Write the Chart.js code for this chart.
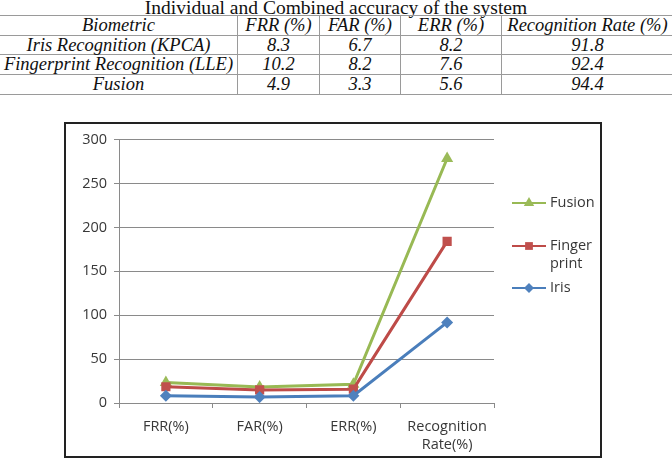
<!DOCTYPE html>
<html>
<head>
<meta charset="utf-8">
<script src="https://cdn.jsdelivr.net/npm/chart.js@4"></script>
<style>
  body { margin: 0; background: #fff; width: 672px; height: 462px; overflow: hidden; position: relative; }
  .title { position: absolute; left: 0; top: -3px; width: 672px; text-align: center;
    font: 19.5px "Liberation Serif", "Times New Roman", serif; color: #111; }
  table { position: absolute; left: -1px; top: 15px; width: 675px; border-collapse: collapse;
    font: italic 18.5px "Liberation Serif", "Times New Roman", serif; color: #111; }
  td { border: 1px solid #9a9a9a; text-align: center; height: 18.7px; padding: 0; line-height: 18.7px; }
  .box { position: absolute; left: 64px; top: 122px; width: 534px; height: 332px; border: 2px solid #222; }
  canvas { display: block; }
</style>
</head>
<body>
<div class="title">Individual and Combined accuracy of the system</div>
<table>
  <tr><td style="width:237px">Biometric</td><td style="width:81px">FRR (%)</td><td style="width:80px">FAR (%)</td><td style="width:100px">ERR (%)</td><td>Recognition Rate (%)</td></tr>
  <tr><td>Iris Recognition (KPCA)</td><td>8.3</td><td>6.7</td><td>8.2</td><td>91.8</td></tr>
  <tr><td>Fingerprint Recognition (LLE)</td><td>10.2</td><td>8.2</td><td>7.6</td><td>92.4</td></tr>
  <tr><td>Fusion</td><td>4.9</td><td>3.3</td><td>5.6</td><td>94.4</td></tr>
</table>
<div class="box"><canvas id="myChart" width="534" height="332"></canvas></div>
<script>
const categories = ['FRR(%)', 'FAR(%)', 'ERR(%)', ['Recognition', 'Rate(%)']]
const iris = [8.3, 6.7, 8.2, 91.8]
const finger = [10.2, 8.2, 7.6, 92.4]
const fusion = [4.9, 3.3, 5.6, 94.4]
const yTicks = [0, 50, 100, 150, 200, 250, 300]

const textColor = '#383838'
const gridColor = '#8a8a8a'

// legend drawn by hand: line + marker, text wrapped like Excel does
const sideLegend = {
  id: 'sideLegend',
  afterDraw: (chart) => {
    const ctx = chart.ctx
    const rows = [
      { ds: 2, y: 79 },
      { ds: 1, y: 122 },
      { ds: 0, y: 164 }
    ]
    ctx.save()
    ctx.font = '14.5px "Open Sans"'
    ctx.textBaseline = 'middle'
    rows.forEach((row) => {
      const ds = chart.data.datasets[row.ds]
      ctx.strokeStyle = ds.borderColor
      ctx.lineWidth = 2
      ctx.beginPath()
      ctx.moveTo(446, row.y)
      ctx.lineTo(480, row.y)
      ctx.stroke()
      ctx.fillStyle = ds.pointBackgroundColor
      Chart.helpers.drawPoint(ctx, { pointStyle: ds.pointStyle, radius: ds.pointRadius - 1, borderWidth: 0 }, 463, row.y)
      ctx.fillStyle = textColor
      ds.label.split(' ').forEach((word, i) => ctx.fillText(word, 484, row.y + i * 18))
    })
    ctx.restore()
  }
}

const config = {
  type: 'line',
  data: {
    labels: categories,
    datasets: [{
      label: 'Iris',
      data: iris,
      borderColor: '#4A7EBB',
      backgroundColor: '#4F81BD',
      pointBackgroundColor: '#4F81BD',
      pointStyle: 'rectRot',
      pointRadius: 6
    }, {
      label: 'Finger print',
      data: finger,
      borderColor: '#BE4B48',
      backgroundColor: '#C0504D',
      pointBackgroundColor: '#C0504D',
      pointStyle: 'rect',
      pointRadius: 6.5
    }, {
      label: 'Fusion',
      data: fusion,
      borderColor: '#98B954',
      backgroundColor: '#9BBB59',
      pointBackgroundColor: '#9BBB59',
      pointStyle: 'triangle',
      pointRadius: 7
    }]
  },
  options: {
    responsive: false,
    animation: false,
    elements: {
      line: { borderWidth: 3, tension: 0 },
      point: { borderWidth: 0 }
    },
    layout: { padding: { top: 14, right: 106, bottom: 0, left: 0 } },
    scales: {
      x: {
        offset: true,
        afterFit: (scale) => { scale.height = 53 },
        grid: { offset: true, drawOnChartArea: false, tickLength: 5, color: gridColor },
        border: { color: gridColor, width: 1 },
        ticks: { color: textColor, font: { family: 'Open Sans', size: 14.5, lineHeight: 1.25 }, padding: 10, maxRotation: 0 }
      },
      y: {
        stacked: true,
        min: 0,
        max: 300,
        afterFit: (scale) => { scale.width = 53 },
        afterBuildTicks: (scale) => { scale.ticks = yTicks.map((v) => ({ value: v })) },
        grid: { color: gridColor, tickLength: 5 },
        border: { color: gridColor, width: 1 },
        ticks: { color: textColor, font: { family: 'Open Sans', size: 14.5 }, padding: 7 }
      }
    },
    plugins: {
      legend: { display: false },
      tooltip: { enabled: false }
    }
  },
  plugins: [sideLegend]
}

const myChart = new Chart(document.getElementById('myChart'), config)
</script>
</body>
</html>
